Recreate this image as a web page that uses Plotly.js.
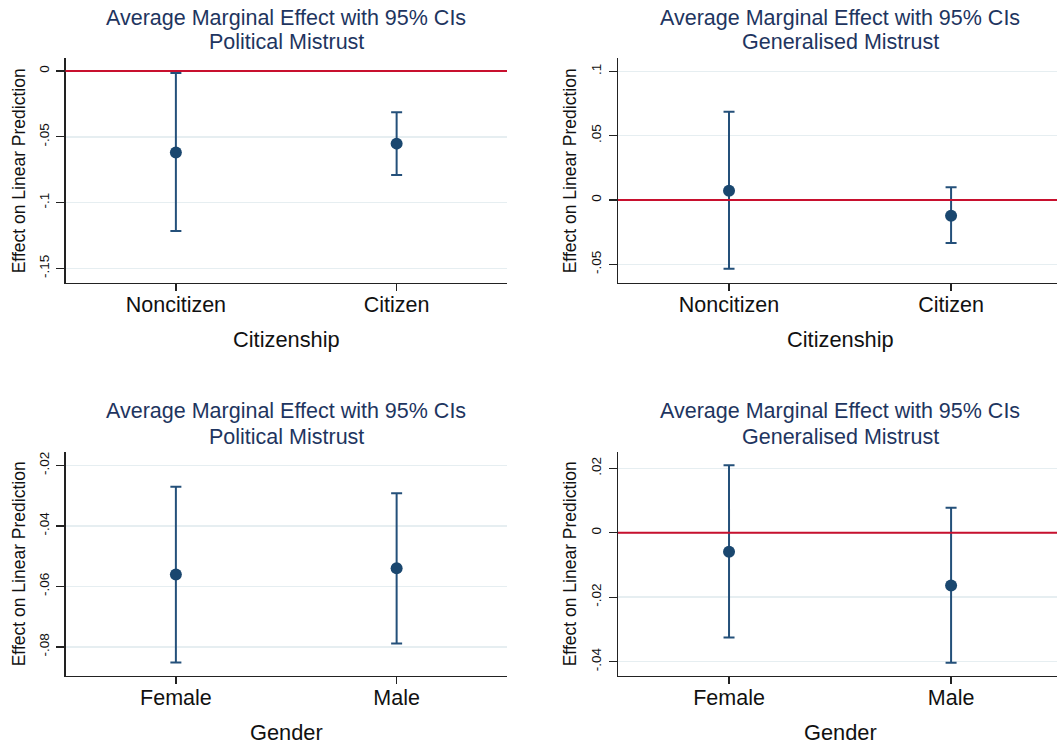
<!DOCTYPE html>
<html>
<head>
<meta charset="utf-8">
<script src="https://cdn.plot.ly/plotly-3.0.1.min.js"></script>
<style>html,body{margin:0;padding:0;background:#fff;}#chart{width:1057px;height:745px;}</style>
</head>
<body>
<div id="chart"></div>
<script>
// ---- data ----
const citCats = ['Noncitizen', 'Citizen'];
const genCats = ['Female', 'Male'];

const polCitEst = [-0.0620, -0.0552];
const polCitLo  = [-0.1216, -0.0790];
const polCitHi  = [-0.0015, -0.0314];

const genCitEst = [0.0072, -0.0122];
const genCitLo  = [-0.0534, -0.0334];
const genCitHi  = [0.0687, 0.0099];

const polGenEst = [-0.0561, -0.0540];
const polGenLo  = [-0.0851, -0.0789];
const polGenHi  = [-0.0271, -0.0292];

const genGenEst = [-0.0059, -0.0164];
const genGenLo  = [-0.0325, -0.0404];
const genGenHi  = [0.0210, 0.0078];

const tickValsP1 = [0, -0.05, -0.1, -0.15];
const tickTextP1 = ['0', '-.05', '-.1', '-.15'];
const tickValsP2 = [0.1, 0.05, 0, -0.05];
const tickTextP2 = ['.1', '.05', '0', '-.05'];
const tickValsP3 = [-0.02, -0.04, -0.06, -0.08];
const tickTextP3 = ['-.02', '-.04', '-.06', '-.08'];
const tickValsP4 = [0.02, 0, -0.02, -0.04];
const tickTextP4 = ['.02', '0', '-.02', '-.04'];

const titleLine1 = 'Average Marginal Effect with 95% CIs';
const titlePol = 'Political Mistrust';
const titleGen = 'Generalised Mistrust';
const yTitle = 'Effect on Linear Prediction';
const xTitleCit = 'Citizenship';
const xTitleGen = 'Gender';

// ---- styling ----
const W = 1057, H = 745;
const FONT = 'Liberation Sans, Arial, sans-serif';
const NAVY = '#1a476f';
const TITLE_COL = '#1e3560';
const RED = '#c8102e';
const GRID = '#e6eef1';
const px = v => v / W;
const py = v => 1 - v / H;

function ebTrace(cats, est, lo, hi, xa, ya) {
  return {
    type: 'scatter', mode: 'markers',
    x: cats, y: est, xaxis: xa, yaxis: ya,
    marker: { color: NAVY, size: 12 },
    error_y: {
      type: 'data', symmetric: false,
      array: hi.map((h, i) => h - est[i]),
      arrayminus: est.map((e, i) => e - lo[i]),
      color: '#24507a', thickness: 2, width: 5.5
    },
    showlegend: false, hoverinfo: 'x+y'
  };
}

function xAxis(domain, range, anchor) {
  return {
    domain: domain, range: range, anchor: anchor, type: 'category',
    showgrid: false, zeroline: false,
    showline: true, linecolor: '#222', linewidth: 1.3,
    ticks: 'outside', ticklen: 7, tickwidth: 1.3, tickcolor: '#222',
    tickfont: { family: FONT, size: 21.5, color: '#111' },
    ticklabelstandoff: -5
  };
}
function yAxis(domain, range, anchor, tv, tt) {
  return {
    domain: domain, range: range, anchor: anchor,
    tickvals: tv, ticktext: tt, tickangle: -90,
    showgrid: true, gridcolor: GRID, gridwidth: 1.5, zeroline: false,
    showline: true, linecolor: '#222', linewidth: 1.3,
    ticks: 'outside', ticklen: 8, tickwidth: 1.3, tickcolor: '#222',
    tickfont: { family: FONT, size: 13.5, color: '#111' },
    ticklabelstandoff: 2
  };
}

const data = [
  ebTrace(citCats, polCitEst, polCitLo, polCitHi, 'x', 'y'),
  ebTrace(citCats, genCitEst, genCitLo, genCitHi, 'x2', 'y2'),
  ebTrace(genCats, polGenEst, polGenLo, polGenHi, 'x3', 'y3'),
  ebTrace(genCats, genGenEst, genGenLo, genGenHi, 'x4', 'y4')
];

const topY = [py(282.7), py(58.3)];
const botY = [py(676), py(451.7)];
const leftX = [px(65.5), px(507)];
const rightX = [px(618), 1];

function ann(text, x, y, size, color, angle) {
  return { text: text, x: x, y: y, xref: 'paper', yref: 'paper',
    xanchor: 'center', yanchor: 'middle', showarrow: false,
    textangle: angle || 0, font: { family: FONT, size: size, color: color } };
}

const TS = 21.5;
const annotations = [
  ann(titleLine1, px(286), py(17.5), TS, TITLE_COL),
  ann(titlePol, px(286), py(42.5), TS, TITLE_COL),
  ann(titleLine1, px(840), py(17.5), TS, TITLE_COL),
  ann(titleGen, px(840), py(42.5), TS, TITLE_COL),
  ann(titleLine1, px(286), py(411.5), TS, TITLE_COL),
  ann(titlePol, px(286), py(436.5), TS, TITLE_COL),
  ann(titleLine1, px(840), py(411.5), TS, TITLE_COL),
  ann(titleGen, px(840), py(436.5), TS, TITLE_COL),
  ann(xTitleCit, px(286), py(339), 21.8, '#111'),
  ann(xTitleCit, px(840), py(339), 21.8, '#111'),
  ann(xTitleGen, px(286), py(732), 21.8, '#111'),
  ann(xTitleGen, px(840), py(732), 21.8, '#111'),
  ann(yTitle, px(18.5), py(170.8), 17.5, '#111', -90),
  ann(yTitle, px(569.5), py(170.8), 17.5, '#111', -90),
  ann(yTitle, px(18.5), py(563.8), 17.5, '#111', -90),
  ann(yTitle, px(569.5), py(563.8), 17.5, '#111', -90)
];

function zeroLine(xa, ya) {
  return { type: 'line', xref: xa + ' domain', yref: ya, x0: 0, x1: 1, y0: 0, y1: 0,
    line: { color: RED, width: 2 }, layer: 'above' };
}

const layout = {
  width: W, height: H,
  margin: { l: 0, r: 0, t: 0, b: 0 },
  paper_bgcolor: '#fff', plot_bgcolor: '#fff',
  showlegend: false,
  xaxis:  xAxis(leftX,  [-0.5, 1.5],   'y'),
  yaxis:  yAxis(topY,   [-0.1609, 0.00965], 'x', tickValsP1, tickTextP1),
  xaxis2: xAxis(rightX, [-0.5, 1.477], 'y2'),
  yaxis2: yAxis(topY,   [-0.0643, 0.1102], 'x2', tickValsP2, tickTextP2),
  xaxis3: xAxis(leftX,  [-0.5, 1.5],   'y3'),
  yaxis3: yAxis(botY,   [-0.0896, -0.0155], 'x3', tickValsP3, tickTextP3),
  xaxis4: xAxis(rightX, [-0.5, 1.477], 'y4'),
  yaxis4: yAxis(botY,   [-0.0445, 0.0252], 'x4', tickValsP4, tickTextP4),
  shapes: [zeroLine('x', 'y'), zeroLine('x2', 'y2'), zeroLine('x4', 'y4')],
  annotations: annotations
};

Plotly.newPlot('chart', data, layout, { staticPlot: true, displayModeBar: false });
</script>
</body>
</html>
